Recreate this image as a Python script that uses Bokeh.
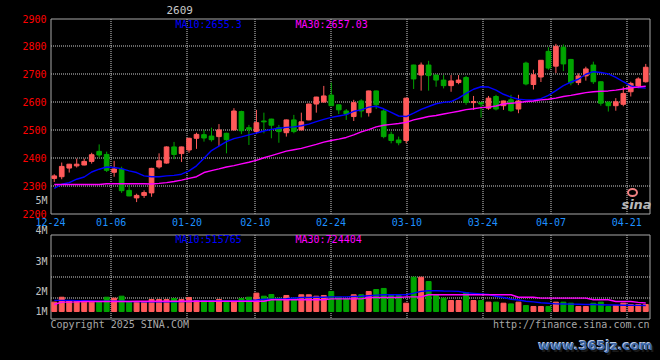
import math
from bokeh.plotting import figure
from bokeh.models import Range1d, ColumnDataSource
from bokeh.core.properties import value
from bokeh.embed import file_html
from bokeh.resources import INLINE

# ---------------- data ----------------
open_ = [2326, 2332, 2363, 2371, 2374, 2387, 2423, 2412, 2348, 2359,
         2283, 2256, 2265, 2274, 2367, 2381, 2439, 2415, 2428, 2470,
         2483, 2478, 2476, 2488, 2500, 2566, 2508, 2494, 2532, 2539,
         2508, 2490, 2536, 2500, 2536, 2593, 2600, 2625, 2590, 2568,
         2548, 2604, 2562, 2640, 2568, 2484, 2464, 2462, 2733, 2697,
         2733, 2697, 2679, 2659, 2670, 2688, 2598, 2598, 2578, 2620,
         2587, 2608, 2575, 2740, 2663, 2690, 2782, 2729, 2797, 2753,
         2670, 2694, 2733, 2673, 2600, 2587, 2592, 2637, 2658, 2673]
high = [2341, 2383, 2378, 2397, 2397, 2418, 2448, 2422, 2389, 2368,
        2305, 2271, 2283, 2364, 2416, 2441, 2457, 2440, 2472, 2490,
        2500, 2508, 2521, 2490, 2578, 2569, 2518, 2572, 2562, 2540,
        2518, 2537, 2554, 2562, 2594, 2619, 2658, 2670, 2591, 2575,
        2608, 2610, 2641, 2641, 2575, 2494, 2476, 2615, 2734, 2742,
        2748, 2698, 2697, 2697, 2697, 2694, 2622, 2599, 2622, 2626,
        2605, 2626, 2626, 2745, 2716, 2751, 2797, 2809, 2807, 2755,
        2703, 2727, 2745, 2674, 2601, 2614, 2655, 2673, 2689, 2737]
low = [2313, 2323, 2347, 2365, 2373, 2379, 2400, 2349, 2332, 2274,
       2262, 2241, 2256, 2260, 2361, 2379, 2395, 2385, 2418, 2432,
       2458, 2458, 2442, 2416, 2498, 2485, 2446, 2485, 2488, 2470,
       2454, 2476, 2488, 2499, 2535, 2562, 2599, 2586, 2557, 2536,
       2532, 2545, 2548, 2575, 2470, 2452, 2445, 2452, 2647, 2641,
       2641, 2655, 2649, 2637, 2664, 2590, 2572, 2544, 2572, 2570,
       2572, 2565, 2560, 2660, 2645, 2672, 2716, 2704, 2711, 2660,
       2661, 2677, 2665, 2587, 2566, 2569, 2585, 2620, 2650, 2670]
close = [2335, 2369, 2377, 2377, 2387, 2411, 2410, 2355, 2360, 2282,
         2263, 2265, 2275, 2362, 2389, 2439, 2412, 2439, 2470, 2484,
         2471, 2465, 2500, 2465, 2568, 2497, 2502, 2526, 2529, 2517,
         2494, 2536, 2494, 2529, 2593, 2618, 2622, 2587, 2572, 2557,
         2598, 2568, 2640, 2590, 2476, 2462, 2454, 2614, 2683, 2733,
         2695, 2679, 2659, 2676, 2679, 2599, 2602, 2593, 2614, 2575,
         2604, 2569, 2604, 2665, 2698, 2750, 2722, 2800, 2737, 2669,
         2694, 2719, 2673, 2596, 2587, 2601, 2631, 2667, 2683, 2725]
ma10 = [2290, 2305, 2311, 2323, 2331, 2349, 2359, 2367, 2365, 2361,
        2353, 2347, 2335, 2332, 2332, 2335, 2337, 2341, 2353, 2371,
        2398, 2426, 2442, 2458, 2469, 2475, 2482, 2489, 2496, 2502,
        2506, 2509, 2511, 2515, 2521, 2530, 2538, 2545, 2550, 2555,
        2567, 2572, 2582, 2585, 2576, 2563, 2550, 2548, 2560, 2574,
        2584, 2594, 2599, 2602, 2614, 2631, 2646, 2655, 2654, 2643,
        2628, 2618, 2610, 2608, 2608, 2612, 2624, 2641, 2659, 2672,
        2682, 2700, 2709, 2706, 2701, 2689, 2673, 2658, 2652, 2650]
ma30 = [2304, 2304, 2304, 2304, 2304, 2304, 2304, 2307, 2307, 2307,
        2307, 2307, 2307, 2306, 2308, 2311, 2315, 2320, 2326, 2332,
        2347, 2354, 2360, 2367, 2372, 2378, 2384, 2391, 2400, 2408,
        2416, 2424, 2429, 2434, 2441, 2448, 2456, 2462, 2467, 2473,
        2482, 2493, 2501, 2511, 2517, 2520, 2523, 2527, 2536, 2542,
        2548, 2552, 2557, 2562, 2567, 2573, 2576, 2580, 2582, 2586,
        2593, 2596, 2598, 2602, 2604, 2608, 2610, 2614, 2620, 2624,
        2629, 2634, 2637, 2639, 2640, 2643, 2647, 2651, 2654, 2657]
volume = [800000, 1220000, 940000, 880000, 800000, 800000, 850000, 1220000, 1140000, 1310000,
          850000, 850000, 850000, 1030000, 1030000, 1030000, 1110000, 1030000, 1200000, 940000,
          940000, 940000, 1030000, 800000, 800000, 1110000, 1220000, 1570000, 1310000, 1450000,
          1140000, 1370000, 1140000, 1430000, 1430000, 1310000, 1370000, 1710000, 1220000, 1080000,
          1430000, 1430000, 1710000, 1880000, 1970000, 1370000, 1370000, 710000, 2930000, 2930000,
          2560000, 1430000, 1140000, 940000, 940000, 1600000, 940000, 940000, 800000, 800000,
          710000, 650000, 800000, 510000, 430000, 430000, 430000, 800000, 800000, 710000,
          430000, 430000, 710000, 800000, 430000, 510000, 710000, 600000, 600000, 600000]
vol_ma10 = [950000, 950000, 950000, 930000, 920000, 900000, 880000, 880000, 880000, 880000,
            860000, 840000, 820000, 820000, 820000, 820000, 820000, 840000, 860000, 880000,
            900000, 900000, 900000, 900000, 900000, 900000, 920000, 980000, 1050000, 1050000,
            1080000, 1100000, 1150000, 1200000, 1200000, 1220000, 1220000, 1250000, 1250000, 1250000,
            1280000, 1300000, 1350000, 1400000, 1430000, 1430000, 1430000, 1430000, 1570000, 1720000,
            1770000, 1770000, 1750000, 1740000, 1720000, 1600000, 1550000, 1500000, 1450000, 1300000,
            1200000, 1050000, 980000, 880000, 820000, 750000, 700000, 650000, 640000, 630000,
            620000, 600000, 600000, 580000, 560000, 550000, 540000, 530000, 520000, 515765]
vol_ma30 = [600000, 800000, 800000, 820000, 850000, 850000, 850000, 850000, 850000, 850000,
            850000, 880000, 880000, 880000, 880000, 880000, 880000, 880000, 880000, 880000,
            880000, 880000, 880000, 880000, 880000, 880000, 880000, 880000, 880000, 1000000,
            1000000, 1000000, 1000000, 1000000, 1000000, 1000000, 1000000, 1080000, 1080000, 1080000,
            1080000, 1080000, 1200000, 1200000, 1200000, 1200000, 1200000, 1250000, 1250000, 1250000,
            1430000, 1430000, 1430000, 1430000, 1430000, 1430000, 1430000, 1430000, 1430000, 1430000,
            1430000, 1430000, 1220000, 1220000, 1220000, 1140000, 1140000, 1140000, 1140000, 1140000,
            1140000, 1140000, 1000000, 1000000, 1000000, 850000, 850000, 850000, 780000, 724404]

date_labels = ["12-24", "01-06", "01-20", "02-10", "02-24", "03-10", "03-24", "04-07", "04-21"]
date_day_index = [0, 8, 18, 27, 37, 47, 57, 66, 76]
price_ticks = [2900, 2800, 2700, 2600, 2500, 2400, 2300, 2200]
price_tick_labels = ["2900", "2800", "2700", "2600", "2500", "2400", "2300", "2200"]
vol_tick_labels = ["5M", "4M", "3M", "2M", "1M"]
ma_price_text = ["MA10:2655.3", "MA30:2657.03"]
ma_vol_text = ["MA10:515765", "MA30:724404"]
last_label = "2609"

# ---------------- layout (page pixels) ----------------
W, H = 660, 360
PL, PR = 50, 649          # panel left / right
PT, PB = 18, 213          # price panel top / bottom
VT, VB = 234, 318         # volume panel top / bottom
VOL0_PX = 311             # page y of zero volume
VOL_PX_PER_SHARE = 11.7 / 1e6
N = len(close)
sx = (PR - PL) / N
x_start = -0.5 - PL / sx
x_end = x_start + W / sx
sy = (PB - PT) / (price_ticks[0] - price_ticks[-1])
y_end = price_ticks[0] + PT / sy
y_start = y_end - H / sy
v_end = VOL0_PX / VOL_PX_PER_SHARE
v_start = v_end - H / VOL_PX_PER_SHARE


def X(px):
    return x_start + px / sx


def Y(py):
    return y_end - py / sy


def V(py):
    return v_end - py / VOL_PX_PER_SHARE


def px_of_x(x):
    return (x - x_start) * sx


def py_of_price(v):
    return (y_end - v) * sy


def crisp(pix):
    return math.floor(pix) + 0.5


UP, DOWN = "#ff5a5a", "#00a400"
GRID = "#d0d0d0"
BORDER = "#a8a8a8"
MONO = value("DejaVu Sans Mono")

p = figure(width=W, height=H, x_range=Range1d(x_start, x_end), y_range=Range1d(y_start, y_end),
           output_backend="svg", toolbar_location=None, min_border=0,
           x_axis_location=None, y_axis_location=None,
           background_fill_color="black", border_fill_color="black", outline_line_color=None)
p.grid.visible = False
p.extra_y_ranges = {"vol": Range1d(v_start, v_end)}

# date axis of the source spans N-1 slots
tick_x = [d * N / (N - 1) - 0.5 for d in date_day_index]

# grid lines (snapped to pixel centres so the dots stay crisp)
gx0, gx1 = X(crisp(PL)), X(crisp(PR))
lv = [Y(crisp(py_of_price(v))) for v in price_ticks[1:-1]]
p.segment(x0=[gx0] * len(lv), x1=[gx1] * len(lv), y0=lv, y1=lv,
          line_color=GRID, line_dash="1 1", line_width=1)
vx = [X(crisp(px_of_x(t))) for t in tick_x[1:]]
p.segment(x0=vx, x1=vx, y0=[Y(crisp(PT))] * len(vx), y1=[Y(crisp(PB))] * len(vx),
          line_color=GRID, line_dash="1 1", line_width=1)
vq = [Y(crisp(VT + (VB - VT) * k / 4)) for k in (1, 2, 3)]
p.segment(x0=[gx0] * 3, x1=[gx1] * 3, y0=vq, y1=vq,
          line_color=GRID, line_dash="1 1", line_width=1)
p.segment(x0=vx, x1=vx, y0=[Y(crisp(VT))] * len(vx), y1=[Y(crisp(VB))] * len(vx),
          line_color=GRID, line_dash="1 1", line_width=1)

# borders
p.quad(left=[gx0], right=[gx1], top=[Y(crisp(PT))], bottom=[Y(crisp(PB))],
       fill_color=None, line_color=BORDER, line_width=1)
p.quad(left=[gx0], right=[gx1], top=[Y(crisp(VT))], bottom=[Y(crisp(VB))],
       fill_color=None, line_color=BORDER, line_width=1)

# candles
idx = list(range(N))
colors = [UP if c >= o else DOWN for o, c in zip(open_, close)]
body_top = [max(o, c) for o, c in zip(open_, close)]
body_bot = [min(o, c) for o, c in zip(open_, close)]
src = ColumnDataSource(dict(x=idx, o=open_, h=high, l=low, c=close, col=colors,
                            bt=body_top, bb=body_bot, vol=volume))
p.segment(x0="x", x1="x", y0="l", y1="h", line_color="col", line_width=1, source=src)
p.vbar(x="x", width=0.62, top="bt", bottom="bb", fill_color="col", line_color="col",
       line_width=1, source=src)
p.line(idx, ma10, line_color="#0000ff", line_width=1.4)
p.line(idx, ma30, line_color="#ff00ff", line_width=1.4)

# volume
p.vbar(x="x", width=0.66, top="vol", bottom=0, fill_color="col", line_color="col",
       line_width=1, source=src, y_range_name="vol")
p.line(idx, vol_ma10, line_color="#0000ff", line_width=1.4, y_range_name="vol")
p.line(idx, vol_ma30, line_color="#ff00ff", line_width=1.4, y_range_name="vol")


def txt(xs, ys, texts, color, size="10px", align="left", font=MONO, style="normal"):
    p.text(x=xs, y=ys, text=texts, text_color=color, text_font=font, text_font_size=size,
           text_align=align, text_baseline="middle", text_font_style=style)


txt([X(46)] * len(price_ticks), price_ticks, price_tick_labels, "#ff0000", align="right")
txt(tick_x, [Y(221.5)] * len(tick_x), date_labels, "#1e90ff", align="center")
vol_label_px = [200, 230, 260.5, 290.5, 310.5]
txt([X(47)] * 5, [Y(v) for v in vol_label_px], vol_tick_labels, "#c0c0c0", align="right")
txt([X(175)], [Y(24)], ma_price_text[:1], "#0000ff")
txt([X(295)], [Y(24)], ma_price_text[1:], "#ff00ff")
txt([X(175)], [Y(238.5)], ma_vol_text[:1], "#0000ff")
txt([X(295)], [Y(238.5)], ma_vol_text[1:], "#ff00ff")
txt([X(166)], [Y(9)], [last_label], "#c8c8c8", size="11px")
txt([X(50)], [Y(323.5)], ["Copyright 2025 SINA.COM"], "#a8a8a8")
txt([X(649)], [Y(324)], ["http://finance.sina.com.cn"], "#a8a8a8", align="right")

# sina logo
p.ellipse(x=[X(632)], y=[Y(192)], width=9 / sx, height=7 / sy, fill_color=None,
          line_color="#f08080", line_width=2)
txt([X(636)], [Y(204)], ["sina"], "#b8b8b8", size="13px", align="center",
    font=value("DejaVu Sans"), style="bold italic")

# watermark
wm = ["www.365jz.com"]
txt([X(539.5)], [Y(346.5)], wm, "#1a1a1a", size="13px", font=value("DejaVu Sans"), style="bold")
txt([X(537)], [Y(344)], wm, "#b8c8e0", size="13px", font=value("DejaVu Sans"), style="bold")
txt([X(538)], [Y(345)], wm, "#3a66a8", size="13px", font=value("DejaVu Sans"), style="bold")

html = file_html(p, INLINE)
html = html.replace("<head>", "<head><style>body{background:#000;}</style>", 1)
open("out.html", "w").write(html)
